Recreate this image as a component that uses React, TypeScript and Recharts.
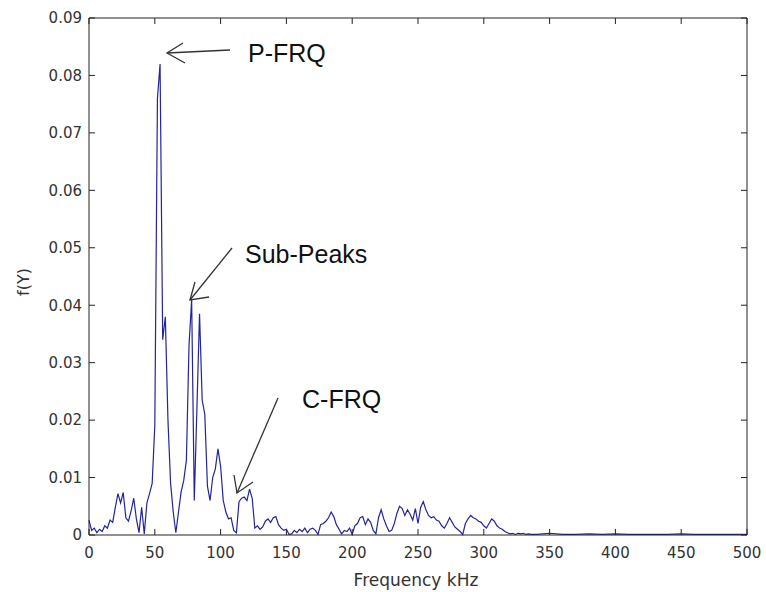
import React from 'react';
import { LineChart, Line, XAxis, YAxis, ReferenceLine } from 'recharts';

// frequency bins (kHz)
const freqKHz = [
  0, 2, 4, 6, 8, 10, 12, 14, 16, 18,
  20, 22, 24, 26, 28, 30, 32, 34, 36, 38,
  40, 42, 44, 46, 48, 50, 52, 54, 56, 58,
  60, 62, 64, 66, 68, 70, 72, 74, 76, 78,
  80, 82, 84, 86, 88, 90, 92, 94, 96, 98,
  100, 102, 104, 106, 108, 110, 112, 114, 116, 118,
  120, 122, 124, 126, 128, 130, 132, 134, 136, 138,
  140, 142, 144, 146, 148, 150, 152, 154, 156, 158,
  160, 162, 164, 166, 168, 170, 172, 174, 176, 178,
  180, 182, 184, 186, 188, 190, 192, 194, 196, 198,
  200, 202, 204, 206, 208, 210, 212, 214, 216, 218,
  220, 222, 224, 226, 228, 230, 232, 234, 236, 238,
  240, 242, 244, 246, 248, 250, 252, 254, 256, 258,
  260, 262, 264, 266, 268, 270, 272, 274, 276, 278,
  280, 282, 284, 286, 288, 290, 292, 294, 296, 298,
  300, 302, 304, 306, 308, 310, 312, 314, 316, 318,
  320, 322, 324, 326, 328, 330, 332, 334, 336, 338,
  340, 350, 360, 370, 380, 390, 400, 410, 420, 430,
  440, 450, 460, 470, 480, 490, 500,
];

// f(Y)
const amplitude = [
  0.0026, 0.0008, 0.0012, 0.0004, 0.0010, 0.0006, 0.0016, 0.0012, 0.0026, 0.0022,
  0.0048, 0.0072, 0.0056, 0.0074, 0.0030, 0.0024, 0.0042, 0.0064, 0.0028, 0.0004,
  0.0048, 0.0002, 0.0056, 0.0072, 0.0090, 0.0190, 0.0760, 0.0820, 0.0340, 0.0380,
  0.0200, 0.0090, 0.0040, 0.0004, 0.0040, 0.0075, 0.0095, 0.0130, 0.0330, 0.0410,
  0.0060, 0.0220, 0.0385, 0.0235, 0.0210, 0.0085, 0.0060, 0.0100, 0.0115, 0.0150,
  0.0120, 0.0060, 0.0040, 0.0028, 0.0030, 0.0008, 0.0004, 0.0058, 0.0064, 0.0066,
  0.0060, 0.0080, 0.0064, 0.0012, 0.0016, 0.0010, 0.0014, 0.0024, 0.0028, 0.0022,
  0.0030, 0.0032, 0.0018, 0.0012, 0.0008, 0.0010, 0.0001, 0.0002, 0.0008, 0.0004,
  0.0010, 0.0006, 0.0012, 0.0004, 0.0010, 0.0012, 0.0008, 0.0001, 0.0018, 0.0020,
  0.0024, 0.0030, 0.0040, 0.0032, 0.0018, 0.0010, 0.0002, 0.0008, 0.0006, 0.0012,
  0.0001, 0.0016, 0.0020, 0.0030, 0.0032, 0.0018, 0.0028, 0.0022, 0.0008, 0.0002,
  0.0030, 0.0044, 0.0028, 0.0016, 0.0006, 0.0008, 0.0020, 0.0038, 0.0050, 0.0046,
  0.0034, 0.0044, 0.0036, 0.0026, 0.0046, 0.0020, 0.0048, 0.0058, 0.0044, 0.0034,
  0.0030, 0.0032, 0.0026, 0.0024, 0.0016, 0.0012, 0.0020, 0.0030, 0.0022, 0.0014,
  0.0010, 0.0006, 0.0001, 0.0020, 0.0028, 0.0034, 0.0030, 0.0028, 0.0024, 0.0022,
  0.0016, 0.0012, 0.0020, 0.0028, 0.0024, 0.0016, 0.0012, 0.0010, 0.0006, 0.0004,
  0.0002, 0.0003, 0.0001, 0.0003, 0.0002, 0.0003, 0.0001, 0.0002, 0.0001, 0.0001,
  0.0001, 0.0003, 0.0001, 0.0001, 0.0002, 0.0001, 0.0002, 0.0001, 0.0001, 0.0001,
  0.0001, 0.0002, 0.0001, 0.0001, 0.0001, 0.0001, 0.0001,
];

const xTicks = [0, 50, 100, 150, 200, 250, 300, 350, 400, 450, 500];
const yTicks = [0, 0.01, 0.02, 0.03, 0.04, 0.05, 0.06, 0.07, 0.08, 0.09];

const X_MAX = 500;
const Y_MAX = 0.09;

const data = freqKHz.map((f, i) => ({ f, y: amplitude[i] }));

const axisColor = '#222';
const tickFont = { fontFamily: 'DejaVu Sans', fontSize: 15, fill: '#333' };
// inward tick length, in data units (~6px)
const X_TICK_LEN = 4.6;
const Y_TICK_LEN = 0.00105;

const Arrow = ({ x1, y1, x2, y2, h1, h2 }: any) => (
  <g stroke="#333" strokeWidth={1.3} fill="none">
    <line x1={x1} y1={y1} x2={x2} y2={y2} />
    <polyline points={`${h1[0]},${h1[1]} ${x2},${y2} ${h2[0]},${h2[1]}`} />
  </g>
);

const App = () => {
  return (
    <div style={{ position: 'absolute', left: 0, top: 0, width: 766, height: 592, background: '#fff' }}>
      <LineChart
        width={766}
        height={592}
        data={data}
        margin={{ top: 8, right: 9, left: 29, bottom: 17 }}
      >
        <XAxis
          dataKey="f"
          type="number"
          domain={[0, X_MAX]}
          ticks={xTicks}
          height={40}
          tickLine={false}
          tickSize={0}
          tickMargin={12}
          stroke={axisColor}
          tick={tickFont}
          interval={0}
        />
        <XAxis
          xAxisId="top"
          orientation="top"
          type="number"
          domain={[0, X_MAX]}
          height={10}
          tickLine={false}
          tick={false}
          stroke={axisColor}
        />
        <YAxis
          type="number"
          domain={[0, Y_MAX]}
          ticks={yTicks}
          width={60}
          tickLine={false}
          tickSize={0}
          tickMargin={7}
          stroke={axisColor}
          tick={tickFont}
          interval={0}
        />
        <YAxis
          yAxisId="right"
          orientation="right"
          type="number"
          domain={[0, Y_MAX]}
          width={10}
          tickLine={false}
          tick={false}
          stroke={axisColor}
        />
        {xTicks.map((t) => (
          <ReferenceLine
            key={`xb-${t}`}
            segment={[{ x: t, y: 0 }, { x: t, y: Y_TICK_LEN }]}
            stroke={axisColor}
            ifOverflow="visible"
          />
        ))}
        {xTicks.map((t) => (
          <ReferenceLine
            key={`xt-${t}`}
            segment={[{ x: t, y: Y_MAX }, { x: t, y: Y_MAX - Y_TICK_LEN }]}
            stroke={axisColor}
            ifOverflow="visible"
          />
        ))}
        {yTicks.map((t) => (
          <ReferenceLine
            key={`yl-${t}`}
            segment={[{ x: 0, y: t }, { x: X_TICK_LEN, y: t }]}
            stroke={axisColor}
            ifOverflow="visible"
          />
        ))}
        {yTicks.map((t) => (
          <ReferenceLine
            key={`yr-${t}`}
            segment={[{ x: X_MAX, y: t }, { x: X_MAX - X_TICK_LEN, y: t }]}
            stroke={axisColor}
            ifOverflow="visible"
          />
        ))}
        <Line
          type="linear"
          dataKey="y"
          stroke="#23239e"
          strokeWidth={1.2}
          dot={false}
          isAnimationActive={false}
        />
      </LineChart>
      <svg
        width={766}
        height={592}
        style={{ position: 'absolute', left: 0, top: 0, pointerEvents: 'none' }}
      >
        <text x={416} y={586} textAnchor="middle" fontFamily="DejaVu Sans" fontSize={17} fill="#333">
          Frequency kHz
        </text>
        <text
          x={29}
          y={282}
          textAnchor="middle"
          fontFamily="DejaVu Sans"
          fontSize={16}
          fill="#333"
          transform="rotate(-90 29 282)"
        >
          f(Y)
        </text>
        <text x={248} y={62} fontFamily="Liberation Sans" fontSize={25} fill="#111">P-FRQ</text>
        <text x={245} y={263} fontFamily="Liberation Sans" fontSize={25} fill="#111">Sub-Peaks</text>
        <text x={302} y={408} fontFamily="Liberation Sans" fontSize={25} fill="#111">C-FRQ</text>
        <Arrow x1={230} y1={50} x2={167} y2={53} h1={[183, 43]} h2={[185, 63]} />
        <Arrow x1={232} y1={248} x2={190} y2={300} h1={[195, 282]} h2={[209, 297]} />
        <Arrow x1={278} y1={398} x2={237} y2={493} h1={[234, 475]} h2={[253, 482]} />
      </svg>
    </div>
  );
};

export default App;
